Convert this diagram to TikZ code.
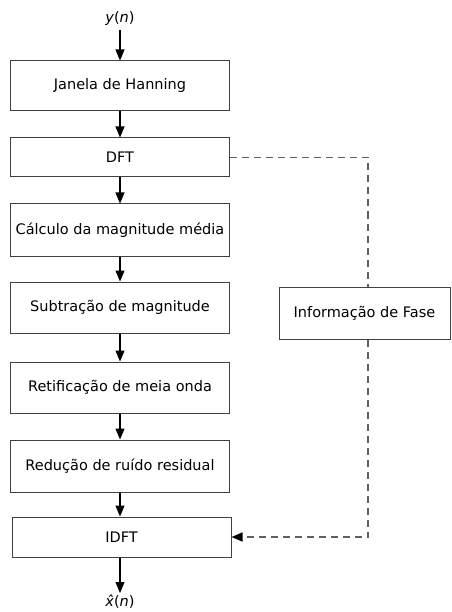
\documentclass[tikz,border=0pt]{standalone}
\usepackage{fontspec}
\setmainfont{DejaVu Sans}
\usetikzlibrary{arrows.meta}
\definecolor{boxline}{HTML}{404040}
\definecolor{dashline}{HTML}{606060}
\tikzset{
  blk/.style={draw=boxline, line width=1pt, minimum width=219pt, inner sep=0pt, font=\fontsize{14.5pt}{17pt}\selectfont},
  flow/.style={line width=1.2pt, -{Triangle[length=11pt,width=9pt]}},
  phase/.style={draw=dashline, line width=1.5pt, dash pattern=on 7pt off 5pt},
  lbl/.style={inner sep=0pt, font=\fontsize{14.5pt}{17pt}\selectfont}
}
\begin{document}
\begin{tikzpicture}[x=1pt,y=-1pt]
\useasboundingbox (0,0) rectangle (451,612);
\node[lbl] (yin) at (120,19) {\itshape y\upshape(\itshape n\upshape)};
\node[blk, minimum height=50pt] (jan) at (120,86) {Janela de Hanning};
\node[blk, minimum height=39pt] (dft) at (120,157.5) {DFT};
\node[blk, minimum height=52pt] (calc) at (120,230) {Cálculo da magnitude média};
\node[blk, minimum height=51pt] (sub) at (120,307.5) {Subtração de magnitude};
\node[blk, minimum height=51pt] (ret) at (120,387.5) {Retificação de meia onda};
\node[blk, minimum height=52pt] (red) at (120,466) {Redução de ruído residual};
\node[blk, minimum height=40pt] (idft) at (121.5,537) {IDFT};
\node[blk, minimum width=171pt, minimum height=52pt] (info) at (364.5,313) {Informação de Fase};
\node[lbl] (xout) at (120,602) {\itshape \^{x}\upshape(\itshape n\upshape)};
\coordinate (yarr) at (120,30);
\coordinate (xarr) at (120,593);
\draw[flow] (yarr) -- (jan.north);
\draw[flow] (jan.south) -- (dft.north);
\draw[flow] (dft.south) -- (calc.north);
\draw[flow] (calc.south) -- (sub.north);
\draw[flow] (sub.south) -- (ret.north);
\draw[flow] (ret.south) -- (red.north);
\draw[flow] (red.south) -- (red.south |- idft.north);
\draw[flow] (red.south |- idft.south) -- (xarr);
\coordinate (c1) at (368,157.5);
\coordinate (c2) at (368,537);
\draw[phase] (dft.east) -- (c1) -- (c1 |- info.north);
\draw[phase, -{Triangle[length=11pt,width=9pt,black]}] (c1 |- info.south) -- (c2) -- (idft.east);
\end{tikzpicture}
\end{document}
